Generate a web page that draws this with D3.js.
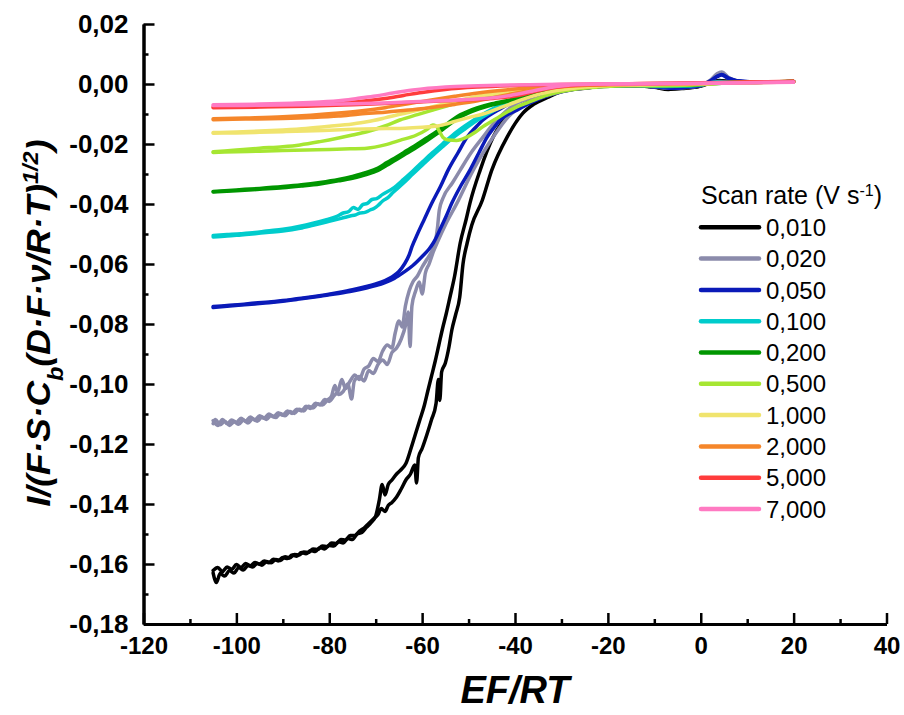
<!DOCTYPE html>
<html>
<head>
<meta charset="utf-8">
<script src="https://cdn.jsdelivr.net/npm/d3@7"></script>
<style>
  body { margin: 0; background: #fff; }
  svg { font-family: Arial, "Liberation Sans", sans-serif; }
</style>
</head>
<body>
<div id="chart"></div>
<script>
// legend categories (scan rate, V s-1)
const rates = ["0,010", "0,020", "0,050", "0,100", "0,200", "0,500", "1,000", "2,000", "5,000", "7,000"];
const colors = ["#000000", "#8b8bab", "#0a1ab8", "#00cccc", "#009600", "#a6e632", "#f0e46e", "#f5862a", "#ff3c3c", "#ff7ac2"];

const xTicks = [-120, -100, -80, -60, -40, -20, 0, 20, 40];
const xMinor = [-110, -90, -70, -50, -30, -10, 10, 30];
const yTicks = [0.02, 0, -0.02, -0.04, -0.06, -0.08, -0.1, -0.12, -0.14, -0.16, -0.18];
const yMinor = [0.01, -0.01, -0.03, -0.05, -0.07, -0.09, -0.11, -0.13, -0.15, -0.17];

// each scan rate: two branches [EF/RT, I/(...)]
const black1 = [[-105,-0.1622],[-104,-0.1612],[-103,-0.1625],[-102,-0.1610],[-101,-0.1618],[-100,-0.1602],[-99,-0.1612],[-98,-0.1598],[-97,-0.1606],[-96,-0.1595],[-95,-0.1600],[-94,-0.1590],[-93,-0.1596],[-92,-0.1584],[-91,-0.1590],[-90,-0.1578],[-89,-0.1582],[-88,-0.1570],[-87,-0.1574],[-86,-0.1562],[-85,-0.1566],[-84,-0.1555],[-83,-0.1558],[-82,-0.1545],[-81,-0.1550],[-80,-0.1538],[-79,-0.1540],[-78,-0.1526],[-77,-0.1530],[-76,-0.1515],[-75,-0.1518],[-74,-0.1500],[-73,-0.1495],[-72,-0.1478],[-71,-0.1462],[-70,-0.1440],[-69.2,-0.1385],[-68.6,-0.1335],[-68,-0.1370],[-67.3,-0.1335],[-66.5,-0.1320],[-65.5,-0.1300],[-64.5,-0.1285],[-63.5,-0.1265],[-62.5,-0.1220],[-61.5,-0.1170],[-60.5,-0.1120],[-59.5,-0.1070],[-58.8,-0.1025],[-58,-0.0975],[-57.2,-0.0925],[-56.4,-0.0870],[-55.6,-0.0815],[-54.8,-0.0765],[-54,-0.0710],[-53,-0.0640],[-51.8,-0.0530],[-50.5,-0.0450],[-49.7,-0.0397],[-47.5,-0.0287],[-44.7,-0.0177],[-41.1,-0.0097],[-37.4,-0.0063],[-34,-0.0040],[-30,-0.0022],[-25,-0.0012],[-20,-0.0006],[-15,-0.0005],[-10,-0.0010],[-7,-0.0016],[-4,-0.0014],[0,-0.0006],[2,0.0004],[4,0.0012],[6,0.0008],[10,0.0005],[15,0.0006],[20,0.0008]];
const black2 = [[-105,-0.1630],[-104.3,-0.1662],[-103.5,-0.1632],[-102.5,-0.1640],[-101.5,-0.1622],[-100.5,-0.1630],[-99.5,-0.1612],[-98.5,-0.1620],[-97.5,-0.1605],[-96.5,-0.1610],[-95.5,-0.1598],[-94.5,-0.1604],[-93.5,-0.1592],[-92.5,-0.1596],[-91.5,-0.1585],[-90.5,-0.1588],[-89.5,-0.1576],[-88.5,-0.1580],[-87.5,-0.1568],[-86.5,-0.1570],[-85.5,-0.1560],[-84.5,-0.1562],[-83.5,-0.1550],[-82.5,-0.1552],[-81.5,-0.1540],[-80.5,-0.1542],[-79.5,-0.1530],[-78.5,-0.1532],[-77.5,-0.1518],[-76.5,-0.1520],[-75.5,-0.1505],[-74.5,-0.1505],[-73.5,-0.1490],[-72.5,-0.1480],[-71.5,-0.1465],[-70.5,-0.1450],[-69.5,-0.1435],[-68.8,-0.1415],[-68,-0.1425],[-67.3,-0.1405],[-66.5,-0.1395],[-65.5,-0.1377],[-64.5,-0.1350],[-63.5,-0.1320],[-62.5,-0.1300],[-61.6,-0.1270],[-61.2,-0.1330],[-60.8,-0.1245],[-60,-0.1215],[-59,-0.1170],[-58,-0.1120],[-57,-0.1065],[-56.5,-0.0985],[-56.2,-0.1055],[-55.8,-0.0960],[-55,-0.0930],[-54.2,-0.0875],[-53.6,-0.0820],[-52.8,-0.0770],[-51.9,-0.0710],[-51.2,-0.0600],[-50.3,-0.0530],[-49.3,-0.0470],[-47.1,-0.0390],[-45,-0.0287],[-41.7,-0.0177],[-38.3,-0.0097],[-36,-0.0068],[-33,-0.0045],[-30,-0.0025],[-25,-0.0014],[-20,-0.0007],[-15,-0.0006],[-10,-0.0011],[-7,-0.0018],[-4,-0.0015],[0,-0.0007],[2,0.0003],[4,0.0010],[6,0.0007],[10,0.0005],[15,0.0006],[20,0.0008]];

const gray1 = [[-105,-0.1122],[-104,-0.1138],[-103,-0.1118],[-102,-0.1132],[-101,-0.1120],[-100,-0.1128],[-99,-0.1114],[-98,-0.1124],[-97,-0.1110],[-96,-0.1120],[-95,-0.1106],[-94,-0.1114],[-93,-0.1100],[-92,-0.1110],[-91,-0.1096],[-90,-0.1104],[-89,-0.1090],[-88,-0.1098],[-87,-0.1084],[-86,-0.1090],[-85,-0.1074],[-84,-0.1082],[-83,-0.1064],[-82,-0.1070],[-81,-0.1052],[-80,-0.1058],[-79,-0.1040],[-78,-0.1020],[-77.3,-0.0985],[-76.5,-0.1015],[-75.5,-0.0990],[-74.5,-0.0970],[-73.5,-0.0985],[-72.5,-0.0950],[-71.5,-0.0940],[-70.5,-0.0915],[-69.5,-0.0925],[-68.5,-0.0890],[-67.5,-0.0870],[-66.5,-0.0880],[-65.8,-0.0830],[-65,-0.0790],[-64.3,-0.0810],[-63.6,-0.0740],[-62.8,-0.0690],[-62,-0.0660],[-61,-0.0640],[-60,-0.0610],[-59,-0.0585],[-58,-0.0560],[-57.2,-0.0530],[-56.7,-0.0480],[-56.3,-0.0420],[-55.5,-0.0380],[-53.5,-0.0330],[-51.8,-0.0287],[-49.5,-0.0230],[-46.9,-0.0177],[-44.5,-0.0130],[-42.6,-0.0100],[-40,-0.0068],[-36,-0.0045],[-32,-0.0030],[-28,-0.0018],[-24,-0.0010],[-20,-0.0006],[-15,-0.0005],[-10,-0.0009],[-6,-0.0014],[-3,-0.0011],[0,-0.0004],[2,0.0012],[3.5,0.0034],[4.5,0.0040],[6,0.0022],[8,0.0010],[12,0.0006],[20,0.0008]];
const gray2 = [[-105,-0.1132],[-104.5,-0.1118],[-103.5,-0.1136],[-102.5,-0.1124],[-101.5,-0.1138],[-100.5,-0.1126],[-99.5,-0.1134],[-98.5,-0.1120],[-97.5,-0.1130],[-96.5,-0.1116],[-95.5,-0.1124],[-94.5,-0.1110],[-93.5,-0.1118],[-92.5,-0.1104],[-91.5,-0.1112],[-90.5,-0.1098],[-89.5,-0.1106],[-88.5,-0.1092],[-87.5,-0.1098],[-86.5,-0.1084],[-85.5,-0.1090],[-84.5,-0.1074],[-83.5,-0.1080],[-82.5,-0.1066],[-81.5,-0.1070],[-80.5,-0.1055],[-79.5,-0.1040],[-78.8,-0.1005],[-78,-0.1035],[-77,-0.1025],[-76,-0.1000],[-75.2,-0.1050],[-74.6,-0.0990],[-73.5,-0.0975],[-72.5,-0.0990],[-71.5,-0.0955],[-70.5,-0.0965],[-69.5,-0.0935],[-68.5,-0.0920],[-67.5,-0.0935],[-66.5,-0.0895],[-65.5,-0.0880],[-64.5,-0.0850],[-63.5,-0.0800],[-63,-0.0760],[-62.6,-0.0875],[-62.2,-0.0740],[-61.4,-0.0690],[-60.6,-0.0660],[-60,-0.0700],[-59.3,-0.0630],[-58.5,-0.0600],[-57.6,-0.0560],[-56.5,-0.0520],[-55,-0.0470],[-52.5,-0.0397],[-49,-0.0287],[-46.5,-0.0220],[-44.7,-0.0177],[-41.5,-0.0110],[-38,-0.0068],[-34,-0.0044],[-30,-0.0026],[-26,-0.0015],[-22,-0.0008],[-18,-0.0005],[-12,-0.0006],[-8,-0.0013],[-4,-0.0012],[0,-0.0005],[2,0.0010],[3.5,0.0030],[4.5,0.0036],[6,0.0020],[8,0.0009],[12,0.0006],[20,0.0008]];

const blue1 = [[-105,-0.0742],[-102,-0.0738],[-99,-0.0735],[-96,-0.0730],[-93,-0.0727],[-90,-0.0722],[-87,-0.0716],[-84,-0.0710],[-81,-0.0703],[-78,-0.0695],[-75,-0.0686],[-72,-0.0675],[-70,-0.0666],[-68,-0.0655],[-66.5,-0.0643],[-65,-0.0625],[-63.8,-0.0600],[-62.8,-0.0570],[-62.2,-0.0543],[-61,-0.0500],[-59.5,-0.0450],[-57.9,-0.0397],[-56,-0.0340],[-54.4,-0.0287],[-52.3,-0.0230],[-50.3,-0.0177],[-48.5,-0.0145],[-46.9,-0.0120],[-44,-0.0090],[-41.1,-0.0065],[-37.4,-0.0045],[-33,-0.0028],[-28,-0.0014],[-22,-0.0007],[-16,-0.0005],[-10,-0.0008],[-6,-0.0013],[-3,-0.0010],[0,-0.0004],[2,0.0010],[3.5,0.0026],[4.5,0.0032],[6,0.0020],[9,0.0009],[14,0.0006],[20,0.0008]];
const blue2 = [[-105,-0.0745],[-102,-0.0741],[-99,-0.0737],[-96,-0.0733],[-93,-0.0729],[-90,-0.0724],[-87,-0.0718],[-84,-0.0712],[-81,-0.0705],[-78,-0.0698],[-75,-0.0690],[-72,-0.0680],[-70,-0.0672],[-68,-0.0662],[-66,-0.0648],[-64,-0.0628],[-62,-0.0605],[-60,-0.0575],[-58.5,-0.0550],[-57.6,-0.0530],[-56,-0.0480],[-54.8,-0.0440],[-53.6,-0.0397],[-51.7,-0.0340],[-49.7,-0.0287],[-47.8,-0.0230],[-46,-0.0177],[-44.5,-0.0145],[-43.2,-0.0120],[-39.6,-0.0087],[-36,-0.0058],[-32,-0.0034],[-27,-0.0017],[-21,-0.0008],[-15,-0.0006],[-10,-0.0009],[-6,-0.0014],[-3,-0.0011],[0,-0.0005],[2,0.0008],[3.5,0.0024],[4.5,0.0030],[6,0.0018],[9,0.0008],[14,0.0006],[20,0.0008]];

const cyan1 = [[-105,-0.0505],[-102,-0.0502],[-99,-0.0499],[-96,-0.0495],[-93.5,-0.0490],[-90,-0.0484],[-86.3,-0.0474],[-83.5,-0.0464],[-80.6,-0.0452],[-78.5,-0.0442],[-77,-0.0430],[-75.8,-0.0425],[-74.8,-0.0412],[-73.8,-0.0418],[-72.8,-0.0402],[-71.8,-0.0398],[-70.8,-0.0385],[-69.8,-0.0382],[-68.5,-0.0368],[-66.3,-0.0348],[-64,-0.0318],[-62,-0.0290],[-59.8,-0.0258],[-57.7,-0.0228],[-55.5,-0.0198],[-53.4,-0.0170],[-50.8,-0.0140],[-48.2,-0.0113],[-44.7,-0.0082],[-41.7,-0.0060],[-38,-0.0042],[-34,-0.0027],[-30,-0.0017],[-25,-0.0009],[-20,-0.0005],[-14,-0.0004],[-8,-0.0007],[-3,-0.0006],[0,-0.0002],[4,0.0008],[8,0.0006],[14,0.0006],[20,0.0008]];
const cyan2 = [[-105,-0.0510],[-102,-0.0507],[-99,-0.0503],[-96,-0.0499],[-93.5,-0.0495],[-90,-0.0490],[-86.3,-0.0481],[-83.5,-0.0471],[-80.6,-0.0460],[-78.5,-0.0452],[-77,-0.0446],[-75.5,-0.0440],[-74.3,-0.0436],[-73.4,-0.0430],[-72.3,-0.0428],[-71.2,-0.0420],[-70.3,-0.0414],[-69.5,-0.0405],[-68.5,-0.0390],[-67.3,-0.0378],[-66.3,-0.0362],[-64,-0.0330],[-62,-0.0300],[-59.8,-0.0268],[-57.7,-0.0238],[-55.5,-0.0208],[-53.4,-0.0180],[-50.8,-0.0150],[-48.2,-0.0122],[-44.7,-0.0090],[-41.7,-0.0066],[-38,-0.0046],[-34,-0.0030],[-30,-0.0019],[-25,-0.0010],[-20,-0.0006],[-14,-0.0005],[-8,-0.0008],[-3,-0.0007],[0,-0.0003],[4,0.0007],[8,0.0006],[14,0.0006],[20,0.0008]];

const green1 = [[-105,-0.0358],[-100,-0.0353],[-95,-0.0348],[-90,-0.0342],[-86,-0.0336],[-82,-0.0328],[-78,-0.0318],[-75,-0.0308],[-72,-0.0295],[-69.5,-0.0280],[-67.6,-0.0262],[-65.5,-0.0243],[-63.3,-0.0222],[-61,-0.0200],[-59,-0.0180],[-57,-0.0160],[-55.5,-0.0143],[-53.5,-0.0120],[-51.8,-0.0103],[-50,-0.0090],[-48.2,-0.0080],[-45,-0.0066],[-41.1,-0.0053],[-37,-0.0038],[-33,-0.0025],[-29,-0.0015],[-24,-0.0008],[-18,-0.0004],[-10,-0.0004],[-4,-0.0004],[0,-0.0001],[6,0.0005],[12,0.0006],[20,0.0008]];
const green2 = [[-105,-0.0360],[-100,-0.0356],[-95,-0.0351],[-90,-0.0346],[-86,-0.0340],[-82,-0.0333],[-78,-0.0323],[-75,-0.0314],[-72,-0.0302],[-69.5,-0.0288],[-67.6,-0.0271],[-65.5,-0.0252],[-63.3,-0.0231],[-61,-0.0209],[-59,-0.0189],[-57,-0.0168],[-55.5,-0.0151],[-53.5,-0.0128],[-51.8,-0.0110],[-50,-0.0096],[-48.2,-0.0085],[-45,-0.0070],[-41.1,-0.0056],[-37,-0.0040],[-33,-0.0027],[-29,-0.0016],[-24,-0.0009],[-18,-0.0005],[-10,-0.0005],[-4,-0.0005],[0,-0.0002],[6,0.0004],[12,0.0006],[20,0.0008]];

const lime1 = [[-105,-0.0226],[-100,-0.0220],[-95,-0.0214],[-90,-0.0209],[-86.3,-0.0203],[-82,-0.0192],[-78,-0.0180],[-75,-0.0170],[-71.9,-0.0159],[-68,-0.0140],[-64.8,-0.0120],[-61,-0.0102],[-57.7,-0.0087],[-54,-0.0070],[-50.4,-0.0053],[-46,-0.0040],[-42,-0.0030],[-37,-0.0021],[-32,-0.0014],[-26,-0.0008],[-20,-0.0005],[-12,-0.0004],[-5,-0.0004],[0,-0.0001],[6,0.0004],[12,0.0006],[20,0.0008]];
const lime2 = [[-105,-0.0228],[-100,-0.0226],[-95,-0.0224],[-90,-0.0222],[-85,-0.0220],[-80,-0.0218],[-75.5,-0.0216],[-71.9,-0.0214],[-68,-0.0203],[-64.8,-0.0188],[-61.2,-0.0170],[-59,-0.0152],[-57.7,-0.0137],[-57,-0.0140],[-56.2,-0.0160],[-55.5,-0.0178],[-54.3,-0.0187],[-52.6,-0.0188],[-50.5,-0.0178],[-48.5,-0.0160],[-46.9,-0.0142],[-44,-0.0115],[-41.5,-0.0092],[-39.6,-0.0076],[-37.4,-0.0063],[-33,-0.0037],[-30,-0.0025],[-26,-0.0015],[-22,-0.0010],[-16,-0.0006],[-10,-0.0006],[-5,-0.0005],[0,-0.0002],[6,0.0004],[12,0.0006],[20,0.0008]];

const yellow1 = [[-105,-0.0162],[-100,-0.0160],[-95,-0.0157],[-90,-0.0153],[-85,-0.0148],[-80,-0.0141],[-75,-0.0133],[-71.9,-0.0126],[-68,-0.0113],[-64.8,-0.0101],[-61,-0.0088],[-57.7,-0.0076],[-54,-0.0062],[-50,-0.0047],[-46,-0.0036],[-43.2,-0.0031],[-38,-0.0022],[-32,-0.0014],[-26,-0.0008],[-20,-0.0004],[-10,-0.0002],[0,0.0001],[10,0.0004],[20,0.0007]];
const yellow2 = [[-105,-0.0164],[-100,-0.0163],[-95,-0.0161],[-90,-0.0159],[-85,-0.0157],[-80,-0.0154],[-75,-0.0151],[-70,-0.0149],[-64.8,-0.0148],[-61,-0.0145],[-57.7,-0.0142],[-56,-0.0138],[-53,-0.0125],[-50,-0.0112],[-46.9,-0.0100],[-43,-0.0078],[-39,-0.0055],[-35,-0.0035],[-31,-0.0022],[-27,-0.0013],[-22,-0.0007],[-15,-0.0003],[-5,0],[5,0.0003],[20,0.0007]];

const orange1 = [[-105,-0.0116],[-98,-0.0113],[-90,-0.0109],[-84,-0.0104],[-78,-0.0097],[-73.4,-0.0090],[-68,-0.0079],[-63,-0.0066],[-58,-0.0053],[-53,-0.0041],[-48,-0.0030],[-42,-0.0020],[-36,-0.0012],[-30,-0.0007],[-22,-0.0003],[-10,0],[0,0.0002],[10,0.0005],[20,0.0008]];
const orange2 = [[-105,-0.0119],[-98,-0.0117],[-90,-0.0115],[-84,-0.0112],[-78,-0.0107],[-73.4,-0.0100],[-68,-0.0094],[-63,-0.0087],[-58,-0.0078],[-53,-0.0068],[-48,-0.0056],[-44,-0.0043],[-40,-0.0031],[-36,-0.0020],[-32,-0.0012],[-27,-0.0006],[-20,-0.0002],[-10,0],[0,0.0002],[10,0.0005],[20,0.0008]];

const red1 = [[-105,-0.0077],[-95,-0.0075],[-88,-0.0072],[-82,-0.0068],[-77,-0.0063],[-72,-0.0056],[-68,-0.0048],[-64,-0.0038],[-60,-0.0028],[-55,-0.0018],[-48,-0.0010],[-40,-0.0005],[-30,-0.0002],[-20,0],[0,0.0003],[20,0.0008]];
const red2 = [[-105,-0.0079],[-95,-0.0077],[-85,-0.0074],[-75,-0.0069],[-68,-0.0065],[-62,-0.0061],[-55,-0.0056],[-50,-0.0053],[-44.7,-0.0048],[-40,-0.0040],[-37,-0.0030],[-33,-0.0016],[-29,-0.0007],[-24,-0.0002],[-15,0.0001],[0,0.0004],[20,0.0009]];

const pink1 = [[-105,-0.0069],[-95,-0.0067],[-88,-0.0064],[-82,-0.0060],[-77,-0.0054],[-73.4,-0.0047],[-70,-0.0040],[-66.3,-0.0030],[-62,-0.0020],[-55,-0.0010],[-48,-0.0006],[-40,-0.0003],[-30,-0.0001],[-20,0],[-10,0.0001],[0,0.0002],[10,0.0004],[20,0.0006]];
const pink2 = [[-105,-0.0072],[-95,-0.0071],[-85,-0.0069],[-75,-0.0066],[-68,-0.0063],[-62,-0.0059],[-55,-0.0055],[-48,-0.0050],[-44.7,-0.0046],[-41,-0.0038],[-37,-0.0026],[-33,-0.0013],[-29,-0.0005],[-24,-0.0001],[-15,0.0001],[-5,0.0002],[5,0.0003],[20,0.0007]];

const curves = [
  [black1, black2], [gray1, gray2], [blue1, blue2], [cyan1, cyan2], [green1, green2],
  [lime1, lime2], [yellow1, yellow2], [orange1, orange2], [red1, red2], [pink1, pink2],
];

const width = 904;
const height = 715;

const svg = d3
  .select("#chart")
  .append("svg")
  .attr("width", width)
  .attr("height", height);

const xScale = d3.scaleLinear().domain([-120, 40]).range([143.5, 886.5]);
const yScale = d3.scaleLinear().domain([-0.18, 0.02]).range([624, 24]);

const locale = d3.formatLocale({ decimal: ",", thousands: ".", grouping: [3], currency: ["", ""], minus: "-" });
const fmtY = locale.format(".2f");
const fmtX = locale.format("d");

// axes: ticks point inward
const xAxis = d3.axisBottom(xScale).tickValues(xTicks).tickFormat(fmtX)
  .tickSizeInner(-11).tickSizeOuter(0).tickPadding(13);
const xAxisMinor = d3.axisBottom(xScale).tickValues(xMinor).tickFormat("")
  .tickSizeInner(-5).tickSizeOuter(0);
const yAxis = d3.axisLeft(yScale).tickValues(yTicks).tickFormat(fmtY)
  .tickSizeInner(-11).tickSizeOuter(0).tickPadding(15);
const yAxisMinor = d3.axisLeft(yScale).tickValues(yMinor).tickFormat("")
  .tickSizeInner(-5).tickSizeOuter(0);

// curves
const line = d3.line()
  .x((d) => xScale(d[0]))
  .y((d) => yScale(d[1]))
  .curve(d3.curveMonotoneX);

const plot = svg.append("g");
curves.forEach((pair, i) => {
  pair.forEach((branch) => {
    plot.append("path")
      .datum(branch)
      .attr("d", line)
      .attr("fill", "none")
      .attr("stroke", colors[i])
      .attr("stroke-width", 3.5)
      .attr("stroke-linejoin", "round")
      .attr("stroke-linecap", "round");
  });
});

const gx = svg.append("g").attr("transform", "translate(0,624)");
gx.call(xAxis);
gx.append("g").call(xAxisMinor);
const gy = svg.append("g").attr("transform", "translate(143.5,0)");
gy.call(yAxis);
gy.append("g").call(yAxisMinor);

svg.selectAll(".domain").attr("stroke", "#000").attr("stroke-width", 3);
svg.selectAll(".tick line").attr("stroke", "#000").attr("stroke-width", 2.5);
svg.selectAll(".tick text")
  .attr("fill", "#000")
  .style("font-weight", "bold")
  .style("font-family", "Arial, 'Liberation Sans', sans-serif");
gx.selectAll(".tick text").style("font-size", "24px");
gy.selectAll(".tick text").style("font-size", "26px");

// axis titles
svg.append("text")
  .attr("x", 515)
  .attr("y", 703)
  .attr("text-anchor", "middle")
  .style("font-size", "38px")
  .style("font-weight", "bold")
  .style("font-style", "italic")
  .text("EF/RT");

const yTitle = svg.append("text")
  .attr("transform", "translate(50,323) rotate(-90)")
  .attr("text-anchor", "middle")
  .attr("textLength", 367)
  .attr("lengthAdjust", "spacingAndGlyphs")
  .style("font-size", "33px")
  .style("font-weight", "bold")
  .style("font-style", "italic");
yTitle.append("tspan").text("I/(F·S·C");
yTitle.append("tspan").attr("baseline-shift", "sub").style("font-size", "22px").text("b");
yTitle.append("tspan").text("(D·F·ν/R·T)");
yTitle.append("tspan").attr("baseline-shift", "super").style("font-size", "22px").text("1/2");
yTitle.append("tspan").text(")");

// legend
const legend = svg.append("g").attr("id", "legend");
const title = legend.append("text")
  .attr("x", 701)
  .attr("y", 204)
  .style("font-size", "25px");
title.append("tspan").text("Scan rate (V s");
title.append("tspan").attr("baseline-shift", "super").style("font-size", "16px").text("-1");
title.append("tspan").text(")");

rates.forEach((r, i) => {
  const cy = 227.3 + i * 31.3;
  legend.append("line")
    .attr("x1", 701).attr("x2", 759)
    .attr("y1", cy).attr("y2", cy)
    .attr("stroke", colors[i])
    .attr("stroke-width", 4.5)
    .attr("stroke-linecap", "round");
  legend.append("text")
    .attr("x", 766)
    .attr("y", cy + 8.6)
    .style("font-size", "24px")
    .text(r);
});
</script>
</body>
</html>
